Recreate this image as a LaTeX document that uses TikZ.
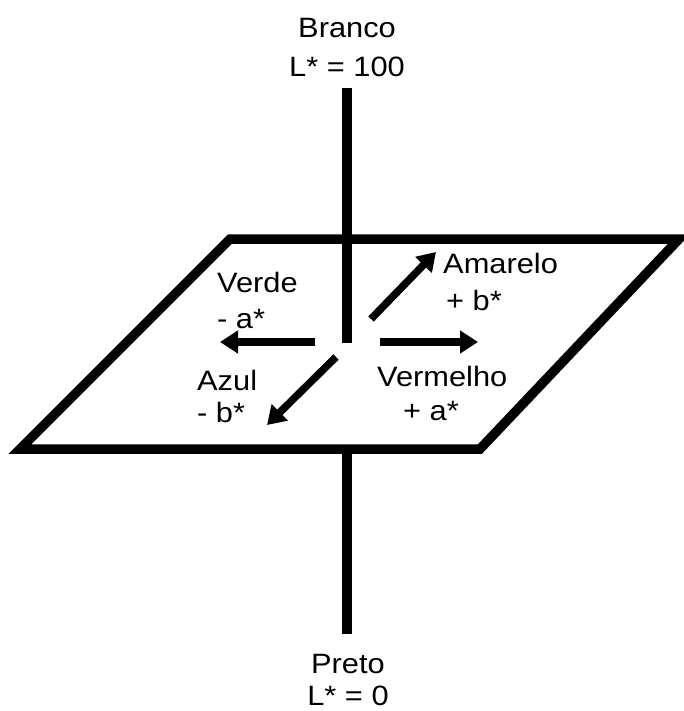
\documentclass[tikz,border=0pt]{standalone}
\usepackage{fontspec}
\setmainfont{Liberation Sans}
\usetikzlibrary{arrows.meta}
\newcommand{\wtxt}[1]{\scalebox{1.1}[1]{#1}}
\tikzset{
  lbl/.style={inner sep=0pt, font=\fontsize{28}{32}\selectfont},
  thick line/.style={line width=9.5pt, draw=black},
  vec/.style={line width=7.5pt, -{Triangle[length=18pt,width=22pt]}}
}
\begin{document}
\begin{tikzpicture}[x=1pt,y=-1pt]
\useasboundingbox (0,0) rectangle (684,711);
% plane
\coordinate (p1) at (230,239);
\coordinate (p2) at (679,239);
\coordinate (p3) at (480,449);
\coordinate (p4) at (20,449);
\draw[thick line, line join=miter] (p1) -- (p2) -- (p3) -- (p4) -- cycle;
% vertical axis
\coordinate (atop) at (347,88);
\coordinate (amid) at (347,343);
\coordinate (abot1) at (347,449);
\coordinate (abot2) at (347,634);
\draw[thick line] (atop) -- (amid);
\draw[thick line] (abot1) -- (abot2);
% vectors
\coordinate (ls) at (315,342); \coordinate (le) at (220,342);
\coordinate (rs) at (380,342); \coordinate (re) at (478,342);
\coordinate (us) at (371,319); \coordinate (ue) at (436,252);
\coordinate (ds) at (336,357); \coordinate (de) at (267,425);
\draw[vec] (ls) -- (le);
\draw[vec] (rs) -- (re);
\draw[vec] (us) -- (ue);
\draw[vec] (ds) -- (de);
% labels
\node[lbl, anchor=base] (branco) at (347,38) {\wtxt{Branco}};
\node[lbl, anchor=base] (l100) at (347,77) {\wtxt{L* = 100}};
\node[lbl, anchor=base] (preto) at (348,673) {\wtxt{Preto}};
\node[lbl, anchor=base] (l0) at (348,705) {\wtxt{L* = 0}};
\node[lbl, anchor=base west] (verde) at (217,292) {\wtxt{Verde}};
\node[lbl, anchor=base west] (ma) at (217,328) {\wtxt{- a*}};
\node[lbl, anchor=base west] (amarelo) at (443,273) {\wtxt{Amarelo}};
\node[lbl, anchor=base west] (pb) at (446,310) {\wtxt{+ b*}};
\node[lbl, anchor=base west] (azul) at (197,390) {\wtxt{Azul}};
\node[lbl, anchor=base west] (mb) at (197,422) {\wtxt{- b*}};
\node[lbl, anchor=base west] (vermelho) at (377,386) {\wtxt{Vermelho}};
\node[lbl, anchor=base west] (pa) at (403,420) {\wtxt{+ a*}};
\end{tikzpicture}
\end{document}
